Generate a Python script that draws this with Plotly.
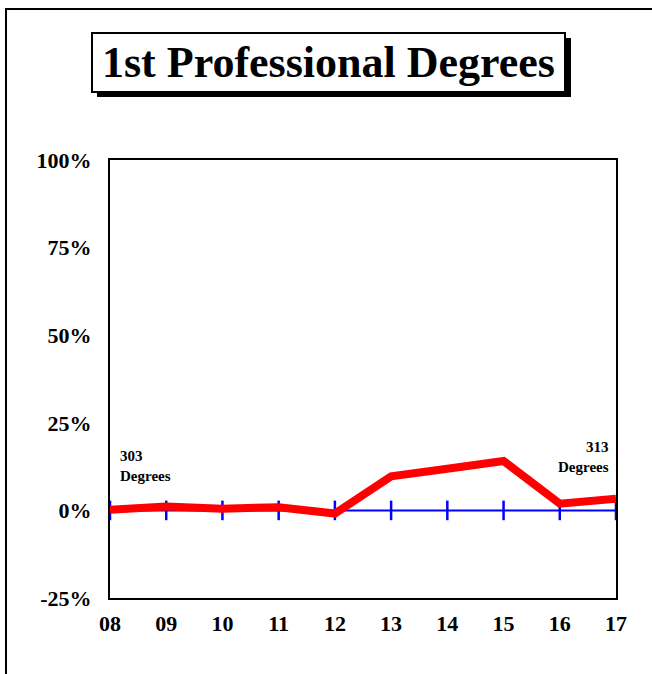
import plotly.graph_objects as go

years = ["08", "09", "10", "11", "12", "13", "14", "15", "16", "17"]
pct_change = [0.2, 1.1, 0.5, 0.9, -0.9, 9.7, 11.9, 14.1, 1.9, 3.3]
baseline = [0] * len(years)
y_ticks = [-25, 0, 25, 50, 75, 100]
y_tick_labels = ["-25%", "0%", "25%", "50%", "75%", "100%"]
title_text = "1st Professional Degrees"
start_label = "303<br>Degrees"
end_label = "313<br>Degrees"

W, H = 652, 674
L, R, T, B = 110, 616, 160, 598


def px(xp):
    return (xp - L) / (R - L)


def py(yp):
    return (B - yp) / (B - T)


xs = list(range(len(years)))
FONT = "Liberation Serif, Times New Roman, serif"

fig = go.Figure()
fig.add_trace(go.Scatter(x=xs, y=baseline, mode="lines+markers",
                         line=dict(color="#0000ff", width=2),
                         marker=dict(symbol="line-ns", size=14,
                                     line=dict(color="#0000ff", width=2.5)),
                         cliponaxis=False, hoverinfo="skip"))
fig.add_trace(go.Scatter(x=xs, y=pct_change, mode="lines",
                         line=dict(color="#ff0000", width=8),
                         cliponaxis=False))

fig.update_layout(
    width=W, height=H,
    margin=dict(l=L, r=W - R, t=T, b=H - B, pad=0),
    paper_bgcolor="white", plot_bgcolor="white",
    showlegend=False,
    font=dict(family=FONT, color="black"),
    xaxis=dict(range=[0, len(years) - 1], tickvals=xs, ticktext=years,
               showgrid=False, zeroline=False, showline=True, mirror=True,
               linecolor="black", linewidth=2, ticks="",
               tickfont=dict(size=22, family=FONT, weight="bold"),
               ticklabelstandoff=5),
    yaxis=dict(range=[-25, 100], tickvals=y_ticks, ticktext=y_tick_labels,
               showgrid=False, zeroline=False, showline=True, mirror=True,
               linecolor="black", linewidth=2, ticks="",
               tickfont=dict(size=22, family=FONT, weight="bold"),
               ticklabelstandoff=12),
    shapes=[
        dict(type="rect", xref="paper", yref="paper",
             x0=px(6), x1=px(700), y0=py(720), y1=py(9),
             line=dict(color="black", width=2), fillcolor="rgba(0,0,0,0)",
             layer="below"),
        dict(type="rect", xref="paper", yref="paper",
             x0=px(97), x1=px(571), y0=py(97), y1=py(38),
             line=dict(width=0), fillcolor="black", layer="below"),
        dict(type="rect", xref="paper", yref="paper",
             x0=px(92), x1=px(565), y0=py(92), y1=py(33),
             line=dict(color="black", width=2), fillcolor="white",
             layer="below"),
    ],
    annotations=[
        dict(text=title_text, xref="paper", yref="paper",
             x=px(328), y=py(63), xanchor="center", yanchor="middle",
             showarrow=False, font=dict(size=44, family=FONT, weight="bold")),
        dict(text=start_label, xref="paper", yref="paper",
             x=px(118), y=py(466), xanchor="left", yanchor="middle",
             align="left", showarrow=False,
             font=dict(size=15, family=FONT, weight="bold")),
        dict(text=end_label, xref="paper", yref="paper",
             x=px(611), y=py(457), xanchor="right", yanchor="middle",
             align="right", showarrow=False,
             font=dict(size=15, family=FONT, weight="bold")),
    ],
)

fig.write_html("out.html", config={"displayModeBar": False},
               post_script="document.body.style.margin='0';")
